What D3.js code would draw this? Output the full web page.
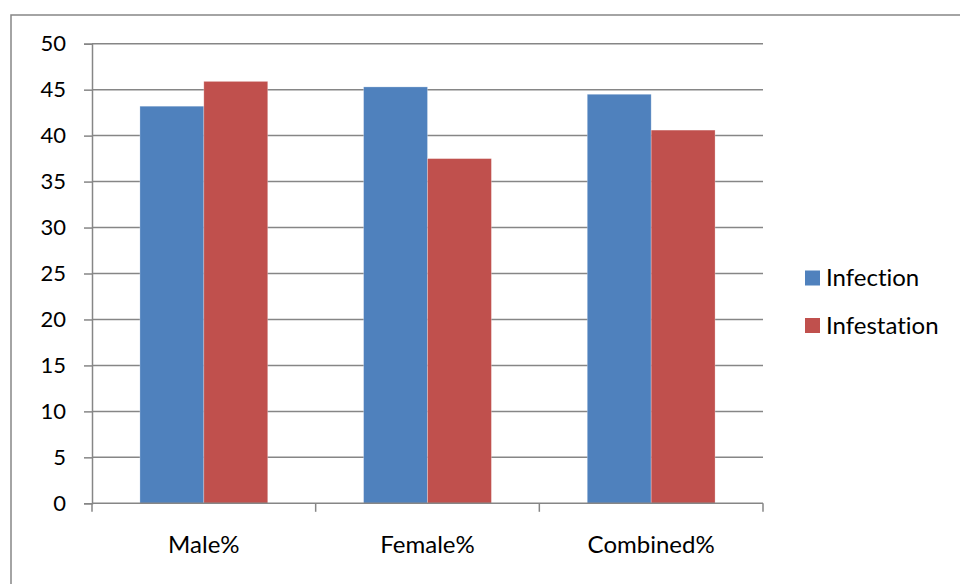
<!DOCTYPE html>
<html>
<head>
<meta charset="utf-8">
<script src="https://cdn.jsdelivr.net/npm/d3@7"></script>
<style>
  html, body { margin: 0; padding: 0; background: #fff; }
  svg { display: block; }
  text { font-family: Lato, "Open Sans", sans-serif; fill: #000; font-variant-ligatures: none; }
</style>
</head>
<body>
<svg id="chart" width="960" height="584"></svg>
<script>
// Category labels along the x axis
const categories = ["Male%", "Female%", "Combined%"];
// Series names and values (percent)
const seriesNames = ["Infection", "Infestation"];
const infection = [43.2, 45.3, 44.5];
const infestation = [45.9, 37.5, 40.6];
// Y axis ticks
const yTicks = [0, 5, 10, 15, 20, 25, 30, 35, 40, 45, 50];

const colors = ["#4F81BD", "#C0504D"];
const seriesValues = [infection, infestation];

const svg = d3.select("#chart");

// Outer chart frame
svg.append("rect")
  .attr("x", 11).attr("y", 15)
  .attr("width", 980).attr("height", 600)
  .attr("fill", "#fff")
  .attr("stroke", "#868686").attr("stroke-width", 1.5);

const plot = { left: 92, right: 763, top: 43.7, bottom: 503.3 };

const x0 = d3.scaleBand()
  .domain(categories)
  .range([plot.left, plot.right])
  .paddingInner(0).paddingOuter(0);

const x1 = d3.scaleBand()
  .domain(seriesNames)
  .range([0, x0.bandwidth()])
  .paddingInner(0).paddingOuter(0.75);

const y = d3.scaleLinear().domain([0, 50]).range([plot.bottom, plot.top]);

const grid = "#868686";

// Horizontal gridlines
svg.append("g")
  .selectAll("line")
  .data(yTicks.filter(d => d > 0))
  .join("line")
  .attr("x1", plot.left).attr("x2", plot.right)
  .attr("y1", d => y(d)).attr("y2", d => y(d))
  .attr("stroke", grid).attr("stroke-width", 1.5);

// Bars
const groups = svg.append("g")
  .selectAll("g")
  .data(categories)
  .join("g")
  .attr("transform", d => `translate(${x0(d)},0)`);

groups.selectAll("rect")
  .data((c, i) => seriesNames.map((s, j) => ({ s, j, v: seriesValues[j][i] })))
  .join("rect")
  .attr("x", d => x1(d.s))
  .attr("width", x1.bandwidth())
  .attr("y", d => y(d.v))
  .attr("height", d => y(0) - y(d.v))
  .attr("fill", d => colors[d.j])
  .attr("stroke", "rgba(255,255,255,0.35)")
  .attr("stroke-width", 0.75);

// Y axis
const yAxis = d3.axisLeft(y)
  .tickValues(yTicks)
  .tickSize(8)
  .tickPadding(18)
  .tickFormat(d3.format("d"));
const gy = svg.append("g")
  .attr("transform", `translate(${plot.left},0)`)
  .call(yAxis);
gy.select(".domain").attr("stroke", grid).attr("stroke-width", 1.5);
gy.selectAll(".tick line").attr("stroke", grid).attr("stroke-width", 1.5);
gy.selectAll(".tick text")
  .style("font-family", "Lato, 'Open Sans', sans-serif")
  .style("font-size", "22px")
  .attr("fill", "#000");

// X axis with ticks at category boundaries
const gx = svg.append("g")
  .attr("transform", `translate(0,${plot.bottom})`);
gx.append("line")
  .attr("x1", plot.left).attr("x2", plot.right)
  .attr("y1", 0).attr("y2", 0)
  .attr("stroke", grid).attr("stroke-width", 1.5);
const boundaries = categories.map(c => x0(c)).concat([x0(categories[categories.length - 1]) + x0.step()]);
gx.selectAll("line.tk")
  .data(boundaries)
  .join("line")
  .attr("class", "tk")
  .attr("x1", d => d).attr("x2", d => d)
  .attr("y1", 0).attr("y2", 8.5)
  .attr("stroke", grid).attr("stroke-width", 1.5);
gx.selectAll("text")
  .data(categories)
  .join("text")
  .attr("x", d => x0(d) + x0.bandwidth() / 2)
  .attr("y", 50)
  .attr("text-anchor", "middle")
  .style("font-size", "24px")
  .text(d => d);

// Legend
const legend = svg.append("g")
  .selectAll("g")
  .data(seriesNames)
  .join("g")
  .attr("transform", (d, i) => `translate(805,${278 + i * 47.5})`);
legend.append("rect")
  .attr("x", 0).attr("y", -7.5)
  .attr("width", 15).attr("height", 15)
  .attr("fill", (d, i) => colors[i]);
legend.append("text")
  .attr("x", 21).attr("y", 0)
  .attr("dy", "0.35em")
  .style("font-size", "24px")
  .text(d => d);
</script>
</body>
</html>
